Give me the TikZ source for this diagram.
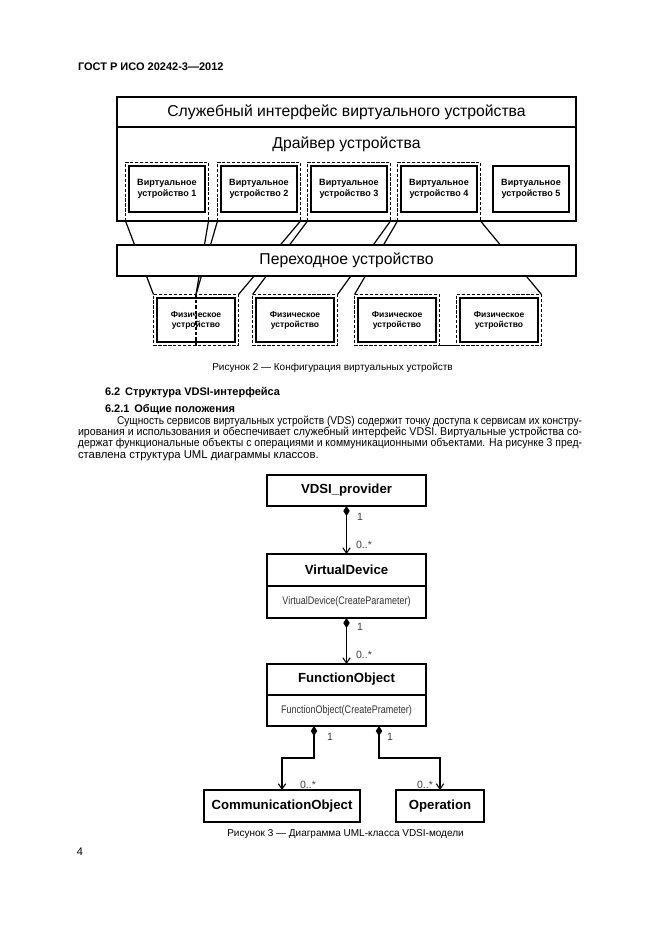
\documentclass[tikz,border=0pt]{standalone}
\usepackage{graphicx}
\usepackage{fontspec}
\setmainfont{Liberation Sans}
\newfontfamily\narrowfont[FakeStretch=0.82]{Liberation Sans}
\usetikzlibrary{arrows.meta,calc}
\newlength\pxu
\setlength\pxu{0.75pt}
\pgfdeclarelayer{back}
\pgfdeclarelayer{bg}
\pgfsetlayers{back,bg,main}
\begin{document}
\begin{tikzpicture}[x=0.75pt,y=-0.75pt,
  every node/.style={inner sep=0pt,outer sep=0pt},
  outframe/.style={draw=black,line width=1.4pt,fill=white,minimum width=459\pxu},
  vdbox/.style={draw=black,line width=2.2pt,fill=white,minimum width=76\pxu,minimum height=46\pxu,align=center,font=\bfseries\fontsize{6.8}{8.3}\selectfont},
  vdframe/.style={draw=black,line width=0.75pt,dash pattern=on 2.4pt off 1.3pt,minimum width=83\pxu,minimum height=59\pxu},
  pdbox/.style={draw=black,line width=2.2pt,fill=white,minimum width=78\pxu,minimum height=44\pxu,align=center,font=\bfseries\fontsize{6.4}{7.6}\selectfont},
  pdframe/.style={draw=black,line width=0.75pt,dash pattern=on 2.4pt off 1.3pt,minimum width=85\pxu,minimum height=51\pxu},
  conn/.style={draw=black,line width=0.9pt},
  bigtxt/.style={font=\fontsize{11.8}{14}\selectfont},
  umlbox/.style={draw=black,line width=1pt,fill=white,minimum width=159\pxu,font=\bfseries\fontsize{9.9}{12}\selectfont},
  umlsub/.style={umlbox,font=\narrowfont\fontsize{8.25}{10}\selectfont,text=black!80},
  assoc/.style={draw=black,line width=0.8pt,{Diamond[length=7.5pt,width=4.8pt]}-{Straight Barb[length=4pt,width=5.5pt]}},
  lbl/.style={font=\fontsize{7.9}{9}\selectfont,text=black!75},
  bodytxt/.style={anchor=west,font=\fontsize{8.5}{10}\selectfont},
  headtxt/.style={anchor=west,font=\bfseries\fontsize{8.25}{10}\selectfont},
  captxt/.style={font=\fontsize{7.5}{9}\selectfont}
]
\begin{pgfonlayer}{back}
\fill[white] (0,0) rectangle (661,936);
\end{pgfonlayer}
\path[use as bounding box] (0,0) rectangle (661,936);

% header
\node[headtxt] (hdr) at (78,67) {ГОСТ Р ИСО 20242-3—2012};

% ---------- Figure 2 ----------
\node[outframe,minimum height=30\pxu,bigtxt] (svc) at (346.5,112) {Служебный интерфейс виртуального устройства};
\node[outframe,minimum height=94\pxu] (drv) at (346.5,174) {};
\node[bigtxt] (drvlbl) at (346.5,144) {Драйвер устройства};

\node[vdframe] (vdf1) at (167,191.5) {};
\node[vdframe] (vdf2) at (259,191.5) {};
\node[vdframe] (vdf3) at (349,191.5) {};
\node[vdframe] (vdf4) at (439,191.5) {};
\node[vdbox] (vd1) at (167,189) {Виртуальное\\устройство 1};
\node[vdbox] (vd2) at (259,189) {Виртуальное\\устройство 2};
\node[vdbox] (vd3) at (349,189) {Виртуальное\\устройство 3};
\node[vdbox] (vd4) at (439,189) {Виртуальное\\устройство 4};
\node[vdbox] (vd5) at (531,189) {Виртуальное\\устройство 5};

\node[outframe,minimum height=31\pxu,bigtxt] (trans) at (346.5,260.5) {Переходное устройство};

\node[pdframe] (pdf1) at (196,320) {};
\node[pdframe] (pdf2) at (295,320) {};
\node[pdframe] (pdf3) at (397,320) {};
\node[pdframe] (pdf4) at (499,320) {};
\node[pdbox] (pd1) at (196,320) {Физическое\\устройство};
\node[pdbox] (pd2) at (295,320) {Физическое\\устройство};
\node[pdbox] (pd3) at (397,320) {Физическое\\устройство};
\node[pdbox] (pd4) at (499,320) {Физическое\\устройство};
\draw[conn,dash pattern=on 2.5pt off 1.5pt] (pdf1.north) -- (pdf1.south);

\begin{pgfonlayer}{bg}
\draw[conn] (vdf1.south west) -- (pdf1.north west);
\draw[conn] (vdf1.south east) -- (pdf1.north);
\draw[conn] (vdf2.south west) -- (pdf1.north);
\draw[conn] (vdf2.south east) -- (pdf1.north east);
\draw[conn] (vdf3.south west) -- (pdf2.north west);
\draw[conn] (vdf3.south east) -- (pdf2.north east);
\draw[conn] (vdf4.south west) -- (pdf3.north west);
\draw[conn] (vdf4.south east) -- (pdf4.north east);
\end{pgfonlayer}
\draw[conn] (pdf3.south east) -- (pdf4.south west);

\node[captxt] (cap2) at (332.5,368) {Рисунок 2 — Конфигурация виртуальных устройств};

% ---------- text ----------
\node[headtxt] (h62) at (105,393) {6.2\hspace{0.45em}Структура VDSI-интерфейса};
\node[headtxt] (h621) at (105,410) {6.2.1\hspace{0.45em}Общие положения};
\node[bodytxt] (p1) at (117,421) {\resizebox{465\pxu}{\height}{Сущность сервисов виртуальных устройств (VDS) содержит точку доступа к сервисам их констру-}};
\node[bodytxt] (p2) at (78,432.5) {\resizebox{504\pxu}{\height}{ирования и использования и обеспечивает служебный интерфейс VDSI. Виртуальные устройства со-}};
\node[bodytxt] (p3) at (78,444) {\resizebox{504\pxu}{\height}{держат функциональные объекты с операциями и коммуникационными объектами. На рисунке 3 пред-}};
\node[bodytxt] (p4) at (78,456) {ставлена структура UML диаграммы классов.};

% ---------- Figure 3 ----------
\node[umlbox,minimum height=31\pxu] (vdsi) at (346.5,490.5) {VDSI\_provider};
\node[umlbox,minimum height=32\pxu] (vdh) at (346.5,570) {VirtualDevice};
\node[umlsub,minimum height=32\pxu] (vdb) at (346.5,602) {VirtualDevice(CreateParameter)};
\node[umlbox,minimum height=31\pxu] (foh) at (346.5,679.5) {FunctionObject};
\node[umlsub,minimum height=31\pxu] (fob) at (346.5,710.5) {FunctionObject(CreatePrameter)};
\node[umlbox,minimum width=156\pxu,minimum height=32\pxu] (comm) at (282,806) {CommunicationObject};
\node[umlbox,minimum width=88\pxu,minimum height=32\pxu] (oper) at (440,806) {Operation};

\draw[assoc] (vdsi.south) -- (vdh.north);
\draw[assoc] (vdb.south) -- (foh.north);
\coordinate (d1) at ($(fob.south)+(-32.5,0)$);
\coordinate (d2) at ($(fob.south)+(32.5,0)$);
\coordinate (lv) at (0,758);
\draw[assoc] (d1) -- (d1 |- lv) -| (comm.north);
\draw[assoc] (d2) -- (d2 |- lv) -| (oper.north);

\node[lbl] (m1a) at (360,517) {1};
\node[lbl] (m1b) at (364,545) {0..*};
\node[lbl] (m2a) at (360,627) {1};
\node[lbl] (m2b) at (364,655) {0..*};
\node[lbl] (m3a) at (330,737) {1};
\node[lbl] (m4a) at (390,737) {1};
\node[lbl] (m3b) at (308,785) {0..*};
\node[lbl] (m4b) at (425,785) {0..*};

\node[captxt] (cap3) at (345.5,834) {Рисунок 3 — Диаграмма UML-класса VDSI-модели};
\node[font=\fontsize{8.25}{10}\selectfont] (pg) at (80,852) {4};
\end{tikzpicture}
\end{document}
